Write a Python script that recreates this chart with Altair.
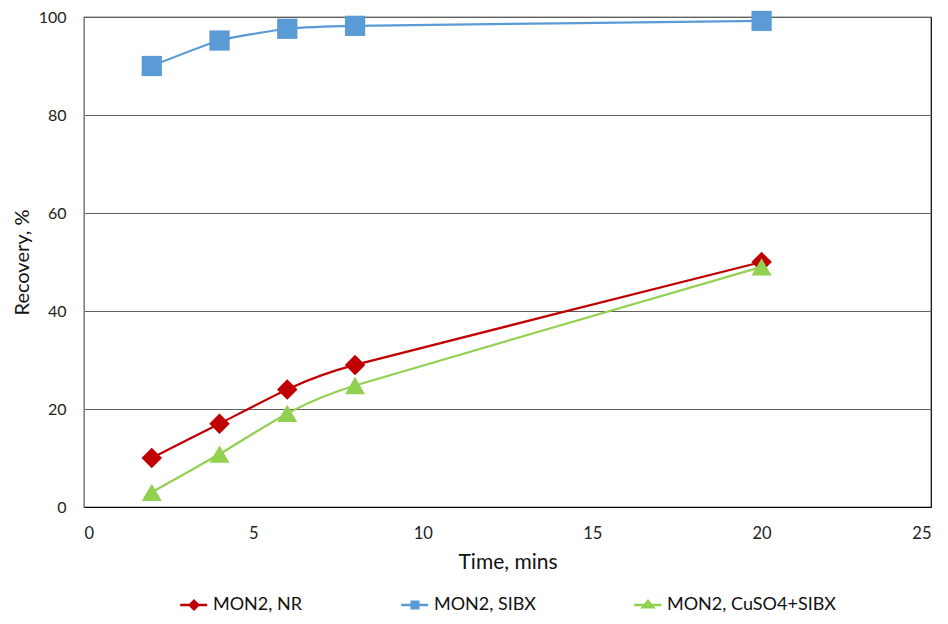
import altair as alt
import pandas as pd

series_names = ["MON2, NR", "MON2, SIBX", "MON2, CuSO4+SIBX"]
time_mins = [2, 4, 6, 8, 20]
nr_values = [10, 17, 24, 29, 50]
sibx_values = [90, 95.2, 97.6, 98.2, 99.2]
cuso4_values = [3, 10.8, 19.1, 24.8, 49]
x_ticks = [0, 5, 10, 15, 20, 25]
y_ticks = [0, 20, 40, 60, 80, 100]

colors = ["#C00000", "#5B9BD5", "#92D050"]
shapes = ["diamond", "square", "triangle-up"]
sizes = [420, 400, 430]
legend_shapes = [
    "M-2.3,-0.2H2.2V0.2H-2.3Z M0,-1L1,0L0,1L-1,0Z",
    "M-2.3,-0.2H2.2V0.2H-2.3Z M-0.75,-0.75H0.75V0.75H-0.75Z",
    "M-2.3,-0.2H2.2V0.2H-2.3Z M0,-1L1.3,0.6L-1.3,0.6Z",
]

rows = []
for name, vals in zip(series_names, [nr_values, sibx_values, cuso4_values]):
    for t, v in zip(time_mins, vals):
        rows.append({"series": name, "time": t, "recovery": v})
df = pd.DataFrame(rows)

FONT = "Lato"

x_enc = alt.X(
    "time:Q",
    scale=alt.Scale(domain=[0, 25], nice=False),
    axis=alt.Axis(
        title="Time, mins", values=x_ticks, grid=False, ticks=False,
        labelFontSize=16.5, titleFontSize=21, labelPadding=18, titlePadding=10,
        labelColor="#222222", titleColor="#111111", titleFontWeight="normal",
        domainColor="#000000", labelFont=FONT, titleFont=FONT,
    ),
)
y_enc = alt.Y(
    "recovery:Q",
    scale=alt.Scale(domain=[0, 100], nice=False),
    axis=alt.Axis(
        title="Recovery, %", values=y_ticks, grid=True, gridColor="#606060",
        ticks=False, labelFontSize=16, titleFontSize=20, labelPadding=18,
        titlePadding=6, labelColor="#222222", titleColor="#111111",
        titleFontWeight="normal", domainColor="#808080",
        labelFont=FONT, titleFont=FONT,
    ),
)

color_scale = alt.Scale(domain=series_names, range=colors)

lines = alt.Chart(df).mark_line(interpolate="cardinal", tension=0.5, strokeWidth=2.2).encode(
    x=x_enc, y=y_enc,
    color=alt.Color("series:N", scale=color_scale, legend=None),
    detail="series:N",
)

points = alt.Chart(df).mark_point(filled=True, opacity=1).encode(
    x=x_enc, y=y_enc,
    color=alt.Color("series:N", scale=color_scale, legend=None),
    shape=alt.Shape("series:N", scale=alt.Scale(domain=series_names, range=shapes), legend=None),
    size=alt.Size("series:N", scale=alt.Scale(domain=series_names, range=sizes), legend=None),
)

legend_props = dict(
    title=None, orient="none", direction="horizontal",
    legendX=101, legendY=579,
    labelFont=FONT, labelFontSize=18, labelColor="#111111", labelLimit=400,
    symbolSize=144, symbolOpacity=1, symbolStrokeWidth=0,
    labelOffset=10, columnPadding=98,
)

legend_layer = alt.Chart(df).mark_point(filled=True, opacity=0).encode(
    x=x_enc, y=y_enc,
    color=alt.Color("series:N", scale=alt.Scale(domain=series_names, range=colors),
                    legend=alt.Legend(**legend_props)),
    shape=alt.Shape("series:N", scale=alt.Scale(domain=series_names, range=legend_shapes),
                    legend=alt.Legend(**legend_props)),
)

chart = (
    alt.layer(lines, points, legend_layer)
    .resolve_scale(color="independent", shape="independent")
    .properties(
        width=847, height=490,
        autosize=alt.AutoSizeParams(type="none"),
        padding={"left": 76, "top": 9, "right": 9, "bottom": 108},
        background="white",
    )
    .configure_view(stroke="#000000", strokeWidth=1.2)
)

chart.save("out.html", embed_options={"renderer": "svg", "actions": False})
